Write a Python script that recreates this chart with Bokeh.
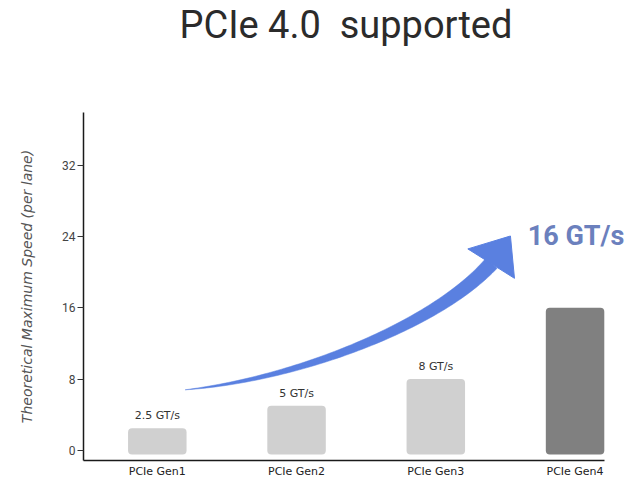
import numpy as np
from bokeh.plotting import figure
from bokeh.models import FixedTicker, Range1d, ColumnDataSource, Label, Title
from bokeh.embed import file_html
from bokeh.resources import INLINE
from bokeh.core.properties import value

# ---- data ----
categories = ["PCIe Gen1", "PCIe Gen2", "PCIe Gen3", "PCIe Gen4"]
speeds = [2.5, 5, 8, 16]
bar_labels = ["2.5 GT/s", "5 GT/s", "8 GT/s", ""]
bar_colors = ["#d0d0d0", "#d0d0d0", "#d0d0d0", "#808080"]
y_ticks = [0, 8, 16, 24, 32]
highlight_label = "16 GT/s"
title_text = "PCIe 4.0\u00a0 supported"
y_title = "Theoretical Maximum Speed (per lane)"

xs = list(range(len(categories)))
X0, X1 = -0.53, 3.47
AXIS_END = 3.21
Y0, Y1 = -1.13, 37.9

p = figure(width=640, height=480, x_range=Range1d(X0, X1), y_range=Range1d(Y0, Y1),
           output_backend="svg", toolbar_location=None, title=None,
           min_border_left=83, min_border_right=0, min_border_top=0, min_border_bottom=18)
p.outline_line_color = None
p.xgrid.visible = False
p.ygrid.visible = False
p.background_fill_color = "white"
p.border_fill_color = "white"

# spacer (closest to the frame) then the visible title above it
p.add_layout(Title(text="\u00a0", text_font_size="10px", standoff=53), "above")
p.add_layout(Title(text=title_text, align="left", offset=96, text_font="Roboto",
                   text_font_size="38px", text_font_style="normal", text_color="#2b2b2b",
                   text_line_height=0.9, standoff=0), "above")

# bars
src = ColumnDataSource(dict(x=xs, top=speeds, lab=bar_labels, color=bar_colors))
p.vbar(x="x", top="top", bottom=-0.45, width=0.42, fill_color="color", line_color=None,
       border_radius=4, source=src)
p.text(x="x", y="top", text="lab", source=src, y_offset=-6, text_align="center",
       text_baseline="bottom", text_font=value("DejaVu Sans"), text_font_size="11px",
       text_color="#333333")

# curved arrow (annotation)
sx = 557 / (X1 - X0)
sy = 345 / (Y1 - Y0)
P0 = np.array([0.2, 6.8]); P1 = np.array([1.0, 8.0]); P2 = np.array([2.0, 14.0]); P3 = np.array([2.40, 21.0])
t = np.linspace(0, 1, 80)[:, None]
pts = (1 - t) ** 3 * P0 + 3 * (1 - t) ** 2 * t * P1 + 3 * (1 - t) * t ** 2 * P2 + t ** 3 * P3
d = 3 * (1 - t) ** 2 * (P1 - P0) + 6 * (1 - t) * t * (P2 - P1) + 3 * t ** 2 * (P3 - P2)
dp = d * np.array([sx, sy])
n = np.stack([-dp[:, 1], dp[:, 0]], axis=1) / np.linalg.norm(dp, axis=1)[:, None]
w = 7.5 * (t[:, 0] ** 0.85)
off = n * w[:, None] / np.array([sx, sy])
up = pts + off
lo = pts - off
shaft_x = np.concatenate([up[:, 0], lo[::-1, 0]])
shaft_y = np.concatenate([up[:, 1], lo[::-1, 1]])
p.patch(shaft_x, shaft_y, fill_color="#5a80e0", line_color="#5a80e0", line_width=0.5)
p.patch([2.23, 2.536, 2.565], [22.6, 24.05, 19.3], fill_color="#5a80e0", line_color="#5a80e0")

p.add_layout(Label(x=2.66, y=24.0, text=highlight_label, text_align="left", text_baseline="middle",
                   text_font="Roboto", text_font_size="27px", text_font_style="bold",
                   text_color="#6b80bd"))

# axes
ya = p.yaxis[0]
ya.ticker = FixedTicker(ticks=y_ticks)
ya.major_tick_out = 6
ya.major_tick_in = 0
ya.minor_tick_line_color = None
ya.axis_line_color = "#1a1a1a"
ya.axis_line_width = 1.5
ya.major_tick_line_color = "#333333"
ya.major_label_text_font = "Roboto"
ya.major_label_text_font_size = "12px"
ya.major_label_text_color = "#444444"
ya.major_label_standoff = 2
ya.axis_label = y_title
ya.axis_label_text_font = "DejaVu Sans"
ya.axis_label_text_font_size = "14px"
ya.axis_label_text_font_style = "italic"
ya.axis_label_text_color = "#555555"
ya.axis_label_standoff = 24

xa = p.xaxis[0]
xa.ticker = FixedTicker(ticks=xs)
xa.bounds = (X0, AXIS_END)
xa.major_label_overrides = {i: c for i, c in zip(xs, categories)}
xa.major_tick_out = 0
xa.major_tick_in = 0
xa.minor_tick_line_color = None
xa.axis_line_color = "#1a1a1a"
xa.axis_line_width = 1.5
xa.major_label_text_font = "DejaVu Sans"
xa.major_label_text_font_size = "11px"
xa.major_label_text_color = "#222222"
xa.major_label_standoff = 4

open("out.html", "w").write(file_html(p, INLINE))
